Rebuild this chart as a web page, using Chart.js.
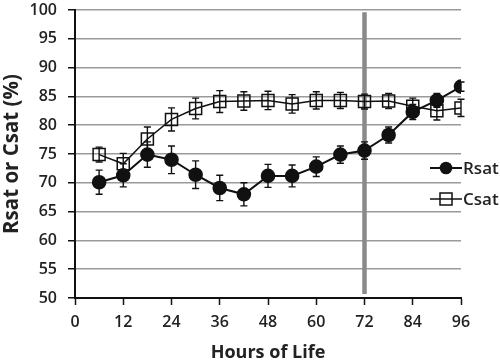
<!DOCTYPE html>
<html>
<head>
<meta charset="utf-8">
<script src="https://cdn.jsdelivr.net/npm/chart.js@4"></script>
<style>
  html, body { margin: 0; padding: 0; background: #fff; }
  #wrap { width: 500px; height: 362px; }
</style>
</head>
<body>
<div id="wrap"><canvas id="satChart"></canvas></div>
<script>
// hours of life (x) and the two series with their error bars
const hours = [6, 12, 18, 24, 30, 36, 42, 48, 54, 60, 66, 72, 78, 84, 90, 96];
const rsat = [70.1, 71.3, 74.9, 74.0, 71.4, 69.1, 68.0, 71.2, 71.2, 72.8, 74.9, 75.6, 78.3, 82.3, 84.3, 86.7];
const rsatErr = [2.1, 2.0, 2.2, 2.4, 2.4, 2.2, 2.0, 2.0, 1.9, 1.7, 1.5, 1.5, 1.4, 1.3, 1.2, 0.8];
const csat = [74.9, 73.3, 77.6, 81.0, 82.9, 84.1, 84.2, 84.3, 83.7, 84.3, 84.3, 84.1, 84.2, 83.3, 82.5, 83.0];
const csatErr = [1.3, 1.8, 2.1, 2.0, 1.8, 1.9, 1.6, 1.6, 1.6, 1.5, 1.4, 1.3, 1.3, 1.4, 1.6, 1.5];

// grey marker line at 72 h
const markerHour = 72;
const markerSpan = [99.6, 50.7];

const xTicks = [0, 12, 24, 36, 48, 60, 72, 84, 96];
const yTicks = [50, 55, 60, 65, 70, 75, 80, 85, 90, 95, 100];

const FONT = "'Open Sans', sans-serif";
const TXT = "#222";

/* ---------- ERROR BARS ---------- */
const errorBars = {
  id: "errorBars",
  afterDatasetsDraw(c) {
    const ctx = c.ctx;
    const xs = c.scales.x, ys = c.scales.y;
    const sets = [[rsat, rsatErr], [csat, csatErr]];
    ctx.save();
    ctx.strokeStyle = "#111";
    ctx.lineWidth = 1.4;
    sets.forEach(([vals, errs]) => {
      vals.forEach((v, i) => {
        const px = xs.getPixelForValue(hours[i]);
        const top = ys.getPixelForValue(v + errs[i]);
        const bot = ys.getPixelForValue(v - errs[i]);
        ctx.beginPath();
        ctx.moveTo(px, top); ctx.lineTo(px, bot);
        ctx.moveTo(px - 3.5, top); ctx.lineTo(px + 3.5, top);
        ctx.moveTo(px - 3.5, bot); ctx.lineTo(px + 3.5, bot);
        ctx.stroke();
      });
    });
    ctx.restore();
  }
};

/* ---------- LEGEND (sits over the plot's right edge) ---------- */
const sideLegend = {
  id: "sideLegend",
  afterDraw(c) {
    const ctx = c.ctx;
    const x0 = c.chartArea.right - 31, x1 = c.chartArea.right + 1;
    const mid = (x0 + x1) / 2;
    const rows = [
      { label: "Rsat", y: 168, mark: "circle" },
      { label: "Csat", y: 199, mark: "rect" }
    ];
    ctx.save();
    rows.forEach(r => {
      ctx.strokeStyle = "#111";
      ctx.lineWidth = r.mark === "circle" ? 2 : 1.5;
      ctx.beginPath(); ctx.moveTo(x0, r.y); ctx.lineTo(x1, r.y); ctx.stroke();
      if (r.mark === "circle") {
        ctx.fillStyle = "#111";
        ctx.beginPath(); ctx.arc(mid, r.y, 6.3, 0, Math.PI * 2); ctx.fill();
      } else {
        ctx.lineWidth = 1.5;
        ctx.strokeRect(mid - 6, r.y - 6, 12, 12);
      }
      ctx.fillStyle = TXT;
      ctx.font = "600 17px " + FONT;
      ctx.textBaseline = "middle";
      ctx.textAlign = "left";
      ctx.fillText(r.label, x1 + 1, r.y + 1);
    });
    ctx.restore();
  }
};

function initChart() {
  new Chart(document.getElementById("satChart"), {
    type: "line",
    data: {
      datasets: [
        {
          label: "Rsat",
          data: hours.map((h, i) => ({ x: h, y: rsat[i] })),
          borderColor: "#111",
          borderWidth: 2,
          pointStyle: "circle",
          pointRadius: 6.3,
          pointBackgroundColor: "#111",
          pointBorderColor: "#111",
          order: 1
        },
        {
          label: "Csat",
          data: hours.map((h, i) => ({ x: h, y: csat[i] })),
          borderColor: "#111",
          borderWidth: 1.5,
          pointStyle: "rect",
          pointRadius: 8.5,
          pointBorderWidth: 1.5,
          pointBackgroundColor: "rgba(255,255,255,0)",
          pointBorderColor: "#111",
          order: 2
        },
        {
          label: "marker",
          data: markerSpan.map(v => ({ x: markerHour, y: v })),
          borderColor: "#8a8a8a",
          borderWidth: 4.5,
          pointRadius: 0,
          order: 5
        }
      ]
    },
    options: {
      responsive: true,
      maintainAspectRatio: false,
      animation: false,
      events: [],
      layout: { padding: { left: 0, right: 39, top: 0, bottom: 0 } },
      plugins: { legend: { display: false }, tooltip: { enabled: false } },
      scales: {
        x: {
          type: "linear",
          min: 0, max: 96,
          afterBuildTicks: s => { s.ticks = xTicks.map(v => ({ value: v })); },
          afterFit: s => { s.height = 64; },
          grid: { drawOnChartArea: false, tickLength: 7, tickColor: "#111", tickWidth: 1.5 },
          border: { color: "#111", width: 2 },
          ticks: { color: TXT, font: { family: FONT, size: 16, weight: "600" }, padding: 8 },
          title: {
            display: true, text: "Hours of Life", color: TXT,
            font: { family: FONT, size: 18, weight: "bold", lineHeight: 1 },
            padding: { top: 0, bottom: 0 }
          }
        },
        y: {
          min: 50, max: 100,
          afterBuildTicks: s => { s.ticks = yTicks.map(v => ({ value: v })); },
          afterFit: s => { s.width = 75; s.paddingTop = 9; s.paddingBottom = 0; },
          grid: { color: "#9a9a9a", lineWidth: 1.5, tickLength: 7, tickColor: "#111", tickWidth: 1.5 },
          border: { color: "#111", width: 2 },
          ticks: { color: TXT, font: { family: FONT, size: 16, weight: "600" }, padding: 11 },
          title: {
            display: true, text: "Rsat or Csat (%)", color: TXT,
            font: { family: FONT, size: 20.5, weight: "bold", lineHeight: 1 },
            padding: { top: 2, bottom: 0 }
          }
        }
      }
    },
    plugins: [errorBars, sideLegend]
  });
}

window.onload = initChart;
</script>
</body>
</html>
